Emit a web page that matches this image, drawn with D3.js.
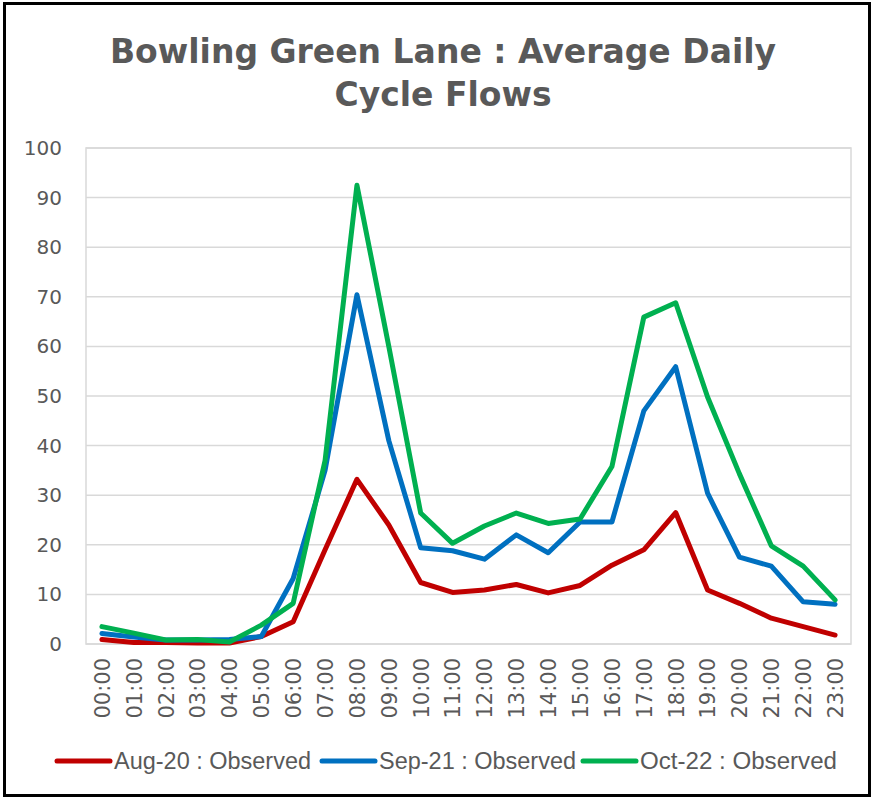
<!DOCTYPE html>
<html>
<head>
<meta charset="utf-8">
<script src="https://cdn.jsdelivr.net/npm/d3@7"></script>
<style>
  html, body { margin: 0; padding: 0; background: #fff; }
  svg { display: block; }
</style>
</head>
<body>
<svg id="chart" width="873" height="798"></svg>
<script>
const HOURS = [
  "00:00", "01:00", "02:00", "03:00", "04:00", "05:00", "06:00", "07:00",
  "08:00", "09:00", "10:00", "11:00", "12:00", "13:00", "14:00", "15:00",
  "16:00", "17:00", "18:00", "19:00", "20:00", "21:00", "22:00", "23:00",
];

const AUG_20 = [0.9, 0.3, 0.3, 0.2, 0.2, 1.5, 4.5, 19.0, 33.2, 24.0, 12.4, 10.4,
  10.9, 12.0, 10.3, 11.8, 15.9, 19.0, 26.5, 10.9, 8.2, 5.2, 3.5, 1.8];
const SEP_21 = [2.1, 1.4, 0.8, 0.8, 0.9, 1.5, 13.2, 35.0, 70.4, 41.0, 19.4, 18.8,
  17.1, 22.0, 18.4, 24.6, 24.6, 47.0, 55.9, 30.4, 17.5, 15.7, 8.5, 8.0];
const OCT_22 = [3.5, 2.2, 0.8, 0.9, 0.4, 3.8, 8.2, 37.0, 92.5, 60.0, 26.4, 20.3,
  23.8, 26.4, 24.3, 25.2, 35.8, 65.9, 68.8, 49.8, 34.3, 19.8, 15.7, 8.9];

const SERIES_NAMES = ["Aug-20 : Observed", "Sep-21 : Observed", "Oct-22 : Observed"];
const SERIES_COLORS = ["#c00000", "#0070c0", "#00b050"];
const Y_TICKS = [0, 10, 20, 30, 40, 50, 60, 70, 80, 90, 100];

const TITLE_LINES = ["Bowling Green Lane : Average Daily", "Cycle Flows"];

const PLOT = { left: 86, right: 851, top: 148, bottom: 644 };
const TEXT_COLOR = "#595959";
const GRID_COLOR = "#d9d9d9";

const series = [AUG_20, SEP_21, OCT_22].map((values, i) => ({
  name: SERIES_NAMES[i],
  color: SERIES_COLORS[i],
  values,
}));

const svg = d3.select("#chart");

svg.append("rect")
  .attr("x", 0).attr("y", 0)
  .attr("width", 873).attr("height", 798)
  .attr("fill", "#fff");

// outer frame
svg.append("rect")
  .attr("x", 4.5).attr("y", 3.5)
  .attr("width", 865).attr("height", 792)
  .attr("fill", "none")
  .attr("stroke", "#000")
  .attr("stroke-width", 3);

svg.append("g")
  .selectAll("text")
  .data(TITLE_LINES)
  .join("text")
  .attr("x", 443)
  .attr("y", (d, i) => 63 + i * 43)
  .attr("text-anchor", "middle")
  .attr("font-family", "DejaVu Sans, Verdana, sans-serif")
  .attr("font-weight", "bold")
  .attr("font-size", 33)
  .attr("fill", TEXT_COLOR)
  .text((d) => d);

const x = d3.scalePoint()
  .domain(HOURS)
  .range([PLOT.left, PLOT.right])
  .padding(0.5);

const y = d3.scaleLinear()
  .domain([0, 100])
  .range([PLOT.bottom, PLOT.top]);

// gridlines
svg.append("g")
  .selectAll("line")
  .data(Y_TICKS)
  .join("line")
  .attr("x1", PLOT.left).attr("x2", PLOT.right)
  .attr("y1", (d) => y(d)).attr("y2", (d) => y(d))
  .attr("stroke", GRID_COLOR)
  .attr("stroke-width", 1.5);

svg.append("rect")
  .attr("x", PLOT.left).attr("y", PLOT.top)
  .attr("width", PLOT.right - PLOT.left)
  .attr("height", PLOT.bottom - PLOT.top)
  .attr("fill", "none")
  .attr("stroke", GRID_COLOR)
  .attr("stroke-width", 1.5);

const yAxis = svg.append("g")
  .attr("transform", `translate(${PLOT.left},0)`)
  .call(d3.axisLeft(y).tickValues(Y_TICKS).tickSize(0).tickPadding(24));
yAxis.select(".domain").remove();
yAxis.selectAll("text")
  .attr("font-family", "DejaVu Sans, Verdana, sans-serif")
  .attr("font-size", 20)
  .attr("fill", TEXT_COLOR);

const xAxis = svg.append("g")
  .attr("transform", `translate(0,${PLOT.bottom})`)
  .call(d3.axisBottom(x).tickSize(0));
xAxis.select(".domain").remove();
xAxis.selectAll("text")
  .attr("font-family", "DejaVu Sans, Verdana, sans-serif")
  .attr("font-size", 21)
  .attr("fill", TEXT_COLOR)
  .attr("text-anchor", "end")
  .attr("dy", "0.35em")
  .attr("transform", "translate(0,14) rotate(-90)")
  .attr("y", 0)
  .attr("x", 0);

const line = d3.line()
  .x((d, i) => x(HOURS[i]))
  .y((d) => y(d));

svg.append("g")
  .selectAll("path")
  .data(series)
  .join("path")
  .attr("d", (d) => line(d.values))
  .attr("fill", "none")
  .attr("stroke", (d) => d.color)
  .attr("stroke-width", 5)
  .attr("stroke-linejoin", "round")
  .attr("stroke-linecap", "round");

// legend
const legendX = [57, 322, 583];
const legend = svg.append("g")
  .selectAll("g")
  .data(series)
  .join("g")
  .attr("transform", (d, i) => `translate(${legendX[i]},761)`);

legend.append("line")
  .attr("x1", 0).attr("x2", 53)
  .attr("y1", 0).attr("y2", 0)
  .attr("stroke", (d) => d.color)
  .attr("stroke-width", 5)
  .attr("stroke-linecap", "round");

legend.append("text")
  .attr("x", 57)
  .attr("y", 0)
  .attr("dy", "0.35em")
  .attr("font-family", "Liberation Sans Narrow, Liberation Sans, Arial, sans-serif")
  .attr("font-size", 23)
  .attr("textLength", 197)
  .attr("lengthAdjust", "spacingAndGlyphs")
  .attr("fill", TEXT_COLOR)
  .text((d) => d.name);
</script>
</body>
</html>
